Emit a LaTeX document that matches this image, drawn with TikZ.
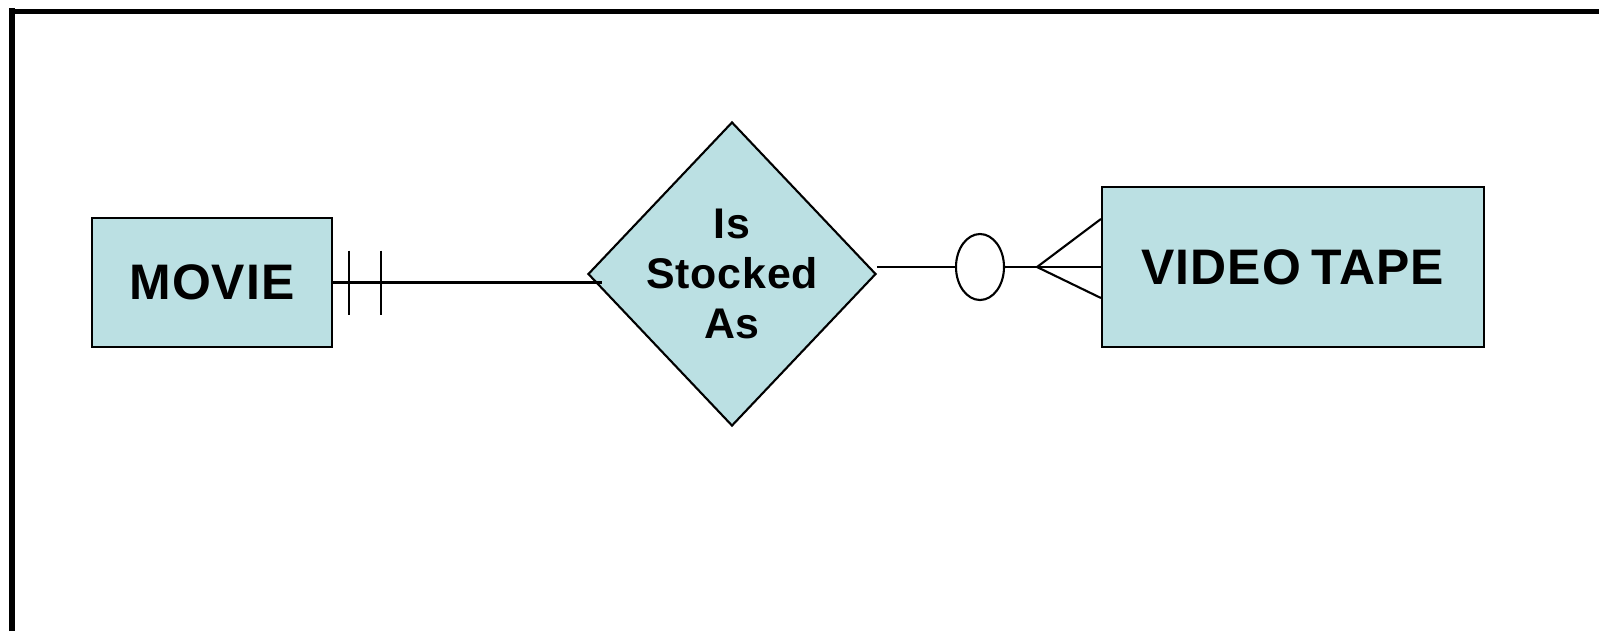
\documentclass[tikz,border=0pt]{standalone}
\usepackage{fontspec}
\setmainfont{Liberation Sans}[LetterSpace=2]
\usetikzlibrary{shapes.geometric}
\definecolor{erfill}{RGB}{187,224,227}

\begin{document}
\begin{tikzpicture}[
    entity/.style={draw, line width=0.6pt, fill=erfill, inner sep=0pt,
      font=\fontsize{14.2}{16}\selectfont\bfseries},
    relation/.style={draw, diamond, line width=0.6pt, fill=erfill, inner sep=0pt},
    conn/.style={line width=0.6pt}]
        \useasboundingbox (0, 0) rectangle (15.99, 6.31);
        % frame
        \draw[line width=1.7pt] (0.12, 0) -- (0.12, 6.23);
        \draw[line width=1.4pt] (0.09, 6.195) -- (15.99, 6.195);
        % entities and relationship
        \node[entity, minimum width=2.4cm, minimum height=1.29cm] (movie) at (2.12, 3.485) {MOVIE};
        \node[entity, minimum width=3.82cm, minimum height=1.6cm] (tape) at (12.93, 3.64) {VIDEO\hspace{-0.08em} TAPE};
        \node[relation, minimum width=2.88cm, minimum height=3.04cm,
          label={[font=\fontsize{12.2}{14.2}\selectfont\bfseries, align=center]center:Is\\Stocked\\As}]
          (stocked) at (7.32, 3.57) {};
        \node[ellipse, draw, line width=0.6pt, minimum width=0.48cm, minimum height=0.66cm, inner sep=0pt]
          (opt) at (9.80, 3.64) {};
        \coordinate (crow) at (10.37, 3.64);
        % movie side: exactly one
        \draw[conn] (movie.east) -- ([xshift=0.15cm]stocked.west |- movie.east);
        \draw[conn] ([xshift=0.16cm]movie.east) ++(0, 0.32) -- ++(0, -0.64);
        \draw[conn] ([xshift=0.48cm]movie.east) ++(0, 0.32) -- ++(0, -0.64);
        % tape side: zero or many
        \draw[conn] (stocked.east |- tape.west) -- (opt.west);
        \draw[conn] (opt.east) -- (crow);
        \draw[conn] (crow) -- ([yshift=0.48cm]tape.west);
        \draw[conn] (crow) -- (tape.west);
        \draw[conn] (crow) -- ([yshift=-0.31cm]tape.west);
\end{tikzpicture}
\end{document}
